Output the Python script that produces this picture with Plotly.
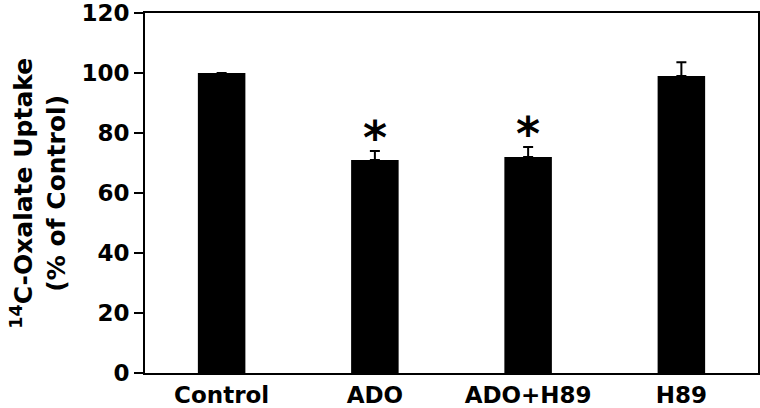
import plotly.graph_objects as go

categories = ["Control", "ADO", "ADO+H89", "H89"]
values = [100, 71, 72, 99]
errors = [0, 3, 3.3, 4.6]
significant = [False, True, True, False]

FONT = "DejaVu Sans"

fig = go.Figure()
fig.add_trace(go.Bar(
    x=categories, y=values, width=0.31,
    marker=dict(color="black", line=dict(width=0)),
    error_y=dict(type="data", array=errors, arrayminus=[0]*len(errors),
                 color="black", thickness=2, width=5),
    showlegend=False, hoverinfo="skip",
))

for c, v, e, s in zip(categories, values, errors, significant):
    if s:
        fig.add_annotation(x=c, y=v + e, text="<b>*</b>", showarrow=False,
                           yanchor="middle", yshift=13,
                           font=dict(family=FONT, size=46, color="black"))

fig.add_annotation(
    xref="paper", yref="paper", x=-0.175, y=0.5,
    xanchor="center", yanchor="middle",
    text="<b><sup>14</sup>C-Oxalate Uptake<br>(% of Control)</b>",
    textangle=-90, showarrow=False,
    font=dict(family=FONT, size=25, color="black"),
)

fig.update_layout(
    width=760, height=408,
    margin=dict(l=145, r=2, t=13, b=35),
    plot_bgcolor="white", paper_bgcolor="white",
    xaxis=dict(
        range=[-0.5, 3.5], showline=True, linecolor="black", linewidth=2,
        mirror=True, ticks="", showgrid=False, automargin=False,
        tickfont=dict(family=FONT, size=23, color="black", weight="bold"),
    ),
    yaxis=dict(
        range=[0, 120], tickvals=[0, 20, 40, 60, 80, 100, 120],
        showline=True, linecolor="black", linewidth=2, mirror=True,
        ticks="outside", ticklen=9, tickwidth=2, tickcolor="black",
        showgrid=False, zeroline=False, automargin=False,
        ticklabeloverflow="allow",
        tickfont=dict(family=FONT, size=23, color="black", weight="bold"),
    ),
)

fig.write_html("out.html", config={"displayModeBar": False},
               post_script="document.body.style.margin='0';document.body.style.overflow='hidden';")
